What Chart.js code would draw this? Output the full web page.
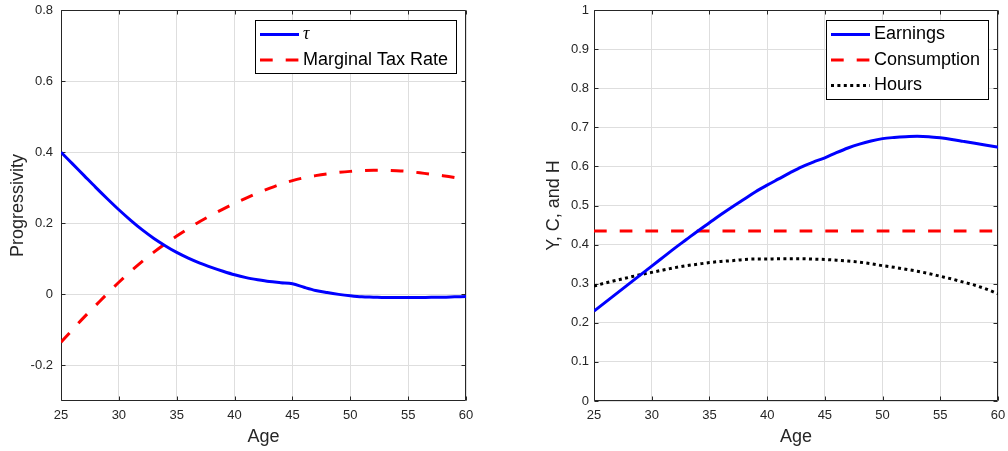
<!DOCTYPE html>
<html>
<head>
<meta charset="utf-8">
<script src="https://cdn.jsdelivr.net/npm/chart.js@4.4.1/dist/chart.umd.min.js"></script>
<style>
  body { margin: 0; background: #fff; }
  .panel { position: absolute; top: 0; width: 504px; height: 451px; }
</style>
</head>
<body>
<div class="panel" style="left:0"><canvas id="taxChart"></canvas></div>
<div class="panel" style="left:504px"><canvas id="lifeChart"></canvas></div>
<script>
// ages on the horizontal axis
var ages = [25, 26, 27, 28, 29, 30, 31, 32, 33, 34, 35, 36, 37, 38, 39, 40, 41, 42,
            43, 44, 45, 46, 47, 48, 49, 50, 51, 52, 53, 54, 55, 56, 57, 58, 59, 60];

// left panel: progressivity by age
var tau = [0.400, 0.367, 0.334, 0.301, 0.269, 0.238, 0.209, 0.182, 0.158, 0.137, 0.118, 0.102,
           0.088, 0.076, 0.065, 0.055, 0.047, 0.041, 0.036, 0.033, 0.030, 0.020, 0.011, 0.005,
           0.000, -0.004, -0.007, -0.008, -0.009, -0.009, -0.009, -0.009, -0.008, -0.008, -0.007, -0.006];
var marginalTaxRate = [-0.135, -0.099, -0.064, -0.031, 0.002, 0.034, 0.064, 0.092, 0.118, 0.142, 0.164, 0.185,
                       0.205, 0.223, 0.240, 0.256, 0.271, 0.285, 0.298, 0.310, 0.320, 0.328, 0.334, 0.339,
                       0.343, 0.346, 0.348, 0.349, 0.349, 0.348, 0.346, 0.342, 0.338, 0.334, 0.329, 0.323];

// right panel: earnings, consumption and hours by age
var earnings = [0.230, 0.253, 0.276, 0.299, 0.322, 0.345, 0.368, 0.391, 0.413, 0.435, 0.456, 0.477,
                0.497, 0.516, 0.535, 0.552, 0.568, 0.584, 0.599, 0.611, 0.622, 0.635, 0.647, 0.657,
                0.665, 0.671, 0.674, 0.676, 0.677, 0.676, 0.673, 0.669, 0.664, 0.659, 0.654, 0.649];
var consumption = [0.435, 0.435, 0.435, 0.435, 0.435, 0.435, 0.435, 0.435, 0.435, 0.435, 0.435, 0.435,
                   0.435, 0.435, 0.435, 0.435, 0.435, 0.435, 0.435, 0.435, 0.435, 0.435, 0.435, 0.435,
                   0.435, 0.435, 0.435, 0.435, 0.435, 0.435, 0.435, 0.435, 0.435, 0.435, 0.435, 0.435];
var hours = [0.294, 0.302, 0.309, 0.316, 0.323, 0.329, 0.335, 0.341, 0.346, 0.350, 0.354, 0.357,
             0.359, 0.362, 0.363, 0.363, 0.364, 0.364, 0.364, 0.363, 0.362, 0.360, 0.358, 0.355,
             0.351, 0.346, 0.342, 0.337, 0.332, 0.326, 0.319, 0.312, 0.304, 0.296, 0.286, 0.274];

// tick positions
var ageTicks = [25, 30, 35, 40, 45, 50, 55, 60];
var taxTicks = [-0.2, 0, 0.2, 0.4, 0.6, 0.8];
var lifeTicks = [0, 0.1, 0.2, 0.3, 0.4, 0.5, 0.6, 0.7, 0.8, 0.9, 1];

var axisColor = '#262626';
var gridColor = '#dedede';
var fontFamily = '"Liberation Sans", Arial, Helvetica, sans-serif';

function points(values) {
    return ages.map(function (a, i) { return { x: a, y: values[i] }; });
}

// axes box with inward tick marks on all four sides
var axesBox = {
    id: 'axesBox',
    beforeDatasetsDraw: function (chart) {
        var ctx = chart.ctx, a = chart.chartArea;
        var xs = chart.scales.x, ys = chart.scales.y;
        var L = Math.round(a.left) + 0.5, R = Math.round(a.right) - 0.5;
        var T = Math.round(a.top) + 0.5, B = Math.round(a.bottom) - 0.5;
        var len = 4;
        ctx.save();
        ctx.strokeStyle = axisColor;
        ctx.lineWidth = 1;
        ctx.beginPath();
        ctx.rect(L, T, R - L, B - T);
        xs.ticks.forEach(function (t) {
            var px = Math.round(xs.getPixelForValue(t.value)) + 0.5;
            ctx.moveTo(px, B); ctx.lineTo(px, B - len);
            ctx.moveTo(px, T); ctx.lineTo(px, T + len);
        });
        ys.ticks.forEach(function (t) {
            var py = Math.round(ys.getPixelForValue(t.value)) + 0.5;
            ctx.moveTo(L, py); ctx.lineTo(L + len, py);
            ctx.moveTo(R, py); ctx.lineTo(R - len, py);
        });
        ctx.stroke();
        ctx.restore();
    }
};

// boxed legend in the upper right corner with long line samples
var boxLegend = {
    id: 'boxLegend',
    afterDraw: function (chart) {
        var ctx = chart.ctx, a = chart.chartArea;
        var sets = chart.data.datasets;
        var padL = 4.5, sample = 39, gap = 4, padR = 8.5, rowH = 25.5;
        ctx.save();
        var widths = sets.map(function (d) {
            ctx.font = d.legendFont || ('18px ' + fontFamily);
            return ctx.measureText(d.label).width;
        });
        var w = padL + sample + gap + Math.max.apply(null, widths) + padR;
        var h = sets.length * rowH + 2;
        var x0 = Math.round(a.right - 10 - w) + 0.5, y0 = Math.round(a.top + 10) + 0.5;
        w = Math.round(w); h = Math.round(h);
        ctx.fillStyle = '#fff';
        ctx.fillRect(x0, y0, w, h);
        ctx.strokeStyle = '#000';
        ctx.lineWidth = 1;
        ctx.strokeRect(x0, y0, w, h);
        sets.forEach(function (d, i) {
            var cy = y0 + 14 + i * rowH;
            ctx.beginPath();
            ctx.strokeStyle = d.borderColor;
            ctx.lineWidth = d.borderWidth;
            ctx.setLineDash(d.borderDash || []);
            ctx.moveTo(x0 + padL, cy);
            ctx.lineTo(x0 + padL + sample, cy);
            ctx.stroke();
            ctx.setLineDash([]);
            ctx.fillStyle = '#000';
            ctx.font = d.legendFont || ('18px ' + fontFamily);
            ctx.textBaseline = 'middle';
            ctx.textAlign = 'left';
            ctx.fillText(d.label, x0 + padL + sample + gap, cy);
        });
        ctx.restore();
    }
};

function makeOptions(o) {
    var tickFont = { family: fontFamily, size: 13 };
    var titleFont = { family: fontFamily, size: 18 };
    return {
        responsive: true,
        maintainAspectRatio: false,
        animation: false,
        layout: { padding: { top: 10, right: o.padRight, left: 0, bottom: 0 } },
        plugins: { legend: { display: false }, tooltip: { enabled: false } },
        elements: { point: { radius: 0 }, line: { cubicInterpolationMode: 'monotone' } },
        scales: {
            x: {
                type: 'linear',
                min: 25,
                max: 60,
                afterFit: function (s) {
                    s.height = 50;
                    s.paddingLeft = 0; s.paddingRight = 0;
                },
                afterBuildTicks: function (s) { s.ticks = ageTicks.map(function (v) { return { value: v }; }); },
                grid: { color: gridColor, drawTicks: false },
                border: { display: false },
                ticks: { color: axisColor, font: tickFont, padding: 7, maxRotation: 0, autoSkip: false },
                title: { display: true, text: 'Age', color: axisColor, font: titleFont, padding: { top: 0, bottom: 3 } }
            },
            y: {
                type: 'linear',
                min: o.yMin,
                max: o.yMax,
                afterFit: function (s) {
                    s.width = o.yWidth;
                    s.paddingTop = 0; s.paddingBottom = 0;
                },
                afterBuildTicks: function (s) { s.ticks = o.yTicks.map(function (v) { return { value: v }; }); },
                grid: { color: gridColor, drawTicks: false },
                border: { display: false },
                ticks: {
                    color: axisColor, font: tickFont, padding: o.tickPad, autoSkip: false,
                    callback: function (v) { return String(+Number(v).toFixed(1)); }
                },
                title: { display: true, text: o.yTitle, color: axisColor, font: titleFont, padding: { top: o.titlePad, bottom: 0 } }
            }
        }
    };
}

new Chart(document.getElementById('taxChart'), {
    type: 'line',
    data: {
        datasets: [
            {
                label: 'τ',
                legendFont: 'italic 18px "Liberation Serif", "DejaVu Serif", serif',
                data: points(tau),
                borderColor: '#0000ff',
                borderWidth: 3,
                clip: 0
            },
            {
                label: 'Marginal Tax Rate',
                data: points(marginalTaxRate),
                borderColor: '#ff0000',
                borderWidth: 3,
                borderDash: [12.7, 13],
                clip: 0
            }
        ]
    },
    options: makeOptions({ yMin: -0.3, yMax: 0.8, yTicks: taxTicks, yWidth: 61, tickPad: 8,
                           yTitle: 'Progressivity', titlePad: 7, padRight: 38 }),
    plugins: [axesBox, boxLegend]
});

new Chart(document.getElementById('lifeChart'), {
    type: 'line',
    data: {
        datasets: [
            {
                label: 'Earnings',
                data: points(earnings),
                borderColor: '#0000ff',
                borderWidth: 3,
                clip: 0
            },
            {
                label: 'Consumption',
                data: points(consumption),
                borderColor: '#ff0000',
                borderWidth: 3,
                borderDash: [12.7, 13],
                clip: 0
            },
            {
                label: 'Hours',
                data: points(hours),
                borderColor: '#000000',
                borderWidth: 3,
                borderDash: [3, 3.4],
                clip: 0
            }
        ]
    },
    options: makeOptions({ yMin: 0, yMax: 1, yTicks: lifeTicks, yWidth: 90, tickPad: 5,
                           yTitle: 'Y, C, and H', titlePad: 39, padRight: 10 }),
    plugins: [axesBox, boxLegend]
});
</script>
</body>
</html>
